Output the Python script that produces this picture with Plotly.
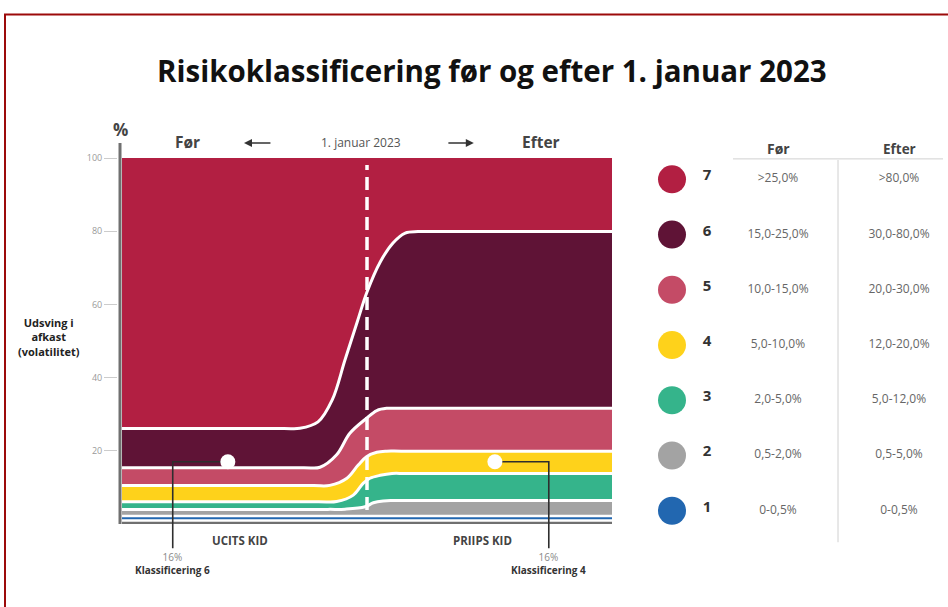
import plotly.graph_objects as go

# ---------------- data ----------------
CLASSES = [1, 2, 3, 4, 5, 6, 7]
BEFORE_RANGES = ["0-0,5%", "0,5-2,0%", "2,0-5,0%", "5,0-10,0%", "10,0-15,0%", "15,0-25,0%", ">25,0%"]
AFTER_RANGES = ["0-0,5%", "0,5-5,0%", "5,0-12,0%", "12,0-20,0%", "20,0-30,0%", "30,0-80,0%", ">80,0%"]
Y_TICKS = [20, 40, 60, 80, 100]

# band boundaries (volatility %) along the time axis (0..100, switch at 50)
B0_X = [0, 100]
B0_Y = [0, 0]
B1_X = [0, 100]
B1_Y = [0.96, 0.96]
B2_X = [0, 100]
B2_Y = [2.2, 2.2]
B3_X = [0, 42, 45.5, 49.6, 51.3, 53.3, 55.3, 58, 100]
B3_Y = [4.0, 4.0, 4.05, 4.7, 5.8, 6.3, 6.4, 6.4, 6.4]
B4_X = [0, 40, 43.8, 47.2, 49.2, 50.6, 52.7, 55.1, 58, 100]
B4_Y = [6.1, 6.1, 6.15, 7.9, 11.1, 12.5, 13.3, 13.8, 13.8, 13.8]
B5_X = [0, 39, 42.4, 45.9, 48.2, 49.9, 52.0, 54.0, 57, 100]
B5_Y = [10.5, 10.5, 10.55, 12.5, 16.1, 18.4, 19.6, 19.9, 19.9, 19.9]
B6_X = [0, 37, 40.4, 43.8, 46.5, 49.9, 52.0, 54.0, 57, 100]
B6_Y = [15.4, 15.4, 15.5, 18.9, 24.8, 28.9, 31.0, 31.6, 31.6, 31.6]
B7_X = [0, 33, 36.3, 40.0, 42.9, 45.5, 48.0, 50.0, 52.7, 55.3, 57.8, 60.4, 64, 100]
B7_Y = [26.1, 26.1, 26.15, 27.9, 33.9, 44.8, 55.2, 63.4, 71.6, 76.8, 79.5, 79.9, 79.9, 79.9]
B8_X = [0, 100]
B8_Y = [100, 100]

SWITCH_X = 50
DASH_Y = [3.8, 98.1]

EXAMPLE_X = [21.6, 76.1]          # fund examples before / after
EXAMPLE_Y = [17.0, 17.0]          # 16 % volatility
EXAMPLE_PCT = ["16%", "16%"]
EXAMPLE_LABEL = ["Klassificering 6", "Klassificering 4"]
EXAMPLE_KID = ["UCITS KID", "PRIIPS KID"]

# ---------------- styles ----------------
COL_AXIS = "#707070"
CLASS_COLORS = ["#2267b0", "#a3a3a3", "#35b48b", "#fed21b", "#c44b66", "#5f1336", "#b21f42"]
BAND_COLORS = [COL_AXIS] + CLASS_COLORS
FONT = "Open Sans"

W, H = 948, 607
def px_x(p):
    return p / W
def px_y(p):
    return 1 - p / H

fig = go.Figure()

bounds = [(B0_X, B0_Y), (B1_X, B1_Y), (B2_X, B2_Y), (B3_X, B3_Y), (B4_X, B4_Y),
          (B5_X, B5_Y), (B6_X, B6_Y), (B7_X, B7_Y), (B8_X, B8_Y)]

# stacked fills
for i, (bx, by) in enumerate(bounds):
    fig.add_trace(go.Scatter(
        x=bx, y=by, mode="lines",
        line=dict(width=0, shape="spline", smoothing=1),
        fill=None if i == 0 else "tonexty",
        fillcolor=None if i == 0 else BAND_COLORS[i - 1],
        hoverinfo="skip", showlegend=False))

# white separators
for i, (bx, by) in enumerate(bounds[1:8], start=1):
    fig.add_trace(go.Scatter(
        x=bx, y=by, mode="lines",
        line=dict(width=2.6 if i <= 2 else 3, color="white", shape="spline", smoothing=1),
        hoverinfo="skip", showlegend=False))

# left axis line
fig.add_trace(go.Scatter(x=[-0.41, -0.41], y=[0, 104.1], mode="lines",
                         line=dict(width=3, color=COL_AXIS), hoverinfo="skip", showlegend=False))

# dashed switch line
fig.add_trace(go.Scatter(x=[SWITCH_X, SWITCH_X], y=DASH_Y, mode="lines",
                         line=dict(width=3.5, color="white", dash="13px,7px"),
                         hoverinfo="skip", showlegend=False))

# connectors for examples
CONN_X = [10.35, 87.1]
CONN_BOTTOM = -6.6
for ex, ey, cx in zip(EXAMPLE_X, EXAMPLE_Y, CONN_X):
    fig.add_trace(go.Scatter(x=[ex, cx, cx], y=[ey, ey, CONN_BOTTOM], mode="lines",
                             line=dict(width=1.6, color="#2e2e2e"),
                             hoverinfo="skip", showlegend=False))

fig.add_trace(go.Scatter(x=EXAMPLE_X, y=EXAMPLE_Y, mode="markers",
                         marker=dict(size=15, color="white", line=dict(width=0)),
                         hoverinfo="skip", showlegend=False))

# ---------------- right table ----------------
COL_CIRCLE, COL_NUM, COL_BEFORE, COL_AFTER = 52, 87, 158, 279
fig.add_trace(go.Scatter(x=[COL_CIRCLE] * 7, y=CLASSES, mode="markers",
                         marker=dict(size=28, color=CLASS_COLORS, line=dict(width=0)),
                         xaxis="x2", yaxis="y2", hoverinfo="skip", showlegend=False))
fig.add_trace(go.Scatter(x=[COL_NUM] * 7, y=[c + 0.05 for c in CLASSES], mode="text",
                         text=[str(c) for c in CLASSES],
                         textfont=dict(family=FONT, size=15, color="#333333", weight="bold"),
                         xaxis="x2", yaxis="y2", hoverinfo="skip", showlegend=False))
fig.add_trace(go.Scatter(x=[COL_BEFORE] * 7, y=CLASSES, mode="text", text=BEFORE_RANGES,
                         textfont=dict(family=FONT, size=12, color="#666666"),
                         xaxis="x2", yaxis="y2", hoverinfo="skip", showlegend=False))
fig.add_trace(go.Scatter(x=[COL_AFTER] * 7, y=CLASSES, mode="text", text=AFTER_RANGES,
                         textfont=dict(family=FONT, size=12, color="#666666"),
                         xaxis="x2", yaxis="y2", hoverinfo="skip", showlegend=False))

annotations = []
shapes = []

annotations += [
    dict(xref="x2", yref="y2", x=COL_BEFORE, y=7.55, text="<b>Før</b>", showarrow=False,
         font=dict(family=FONT, size=14, color="#444444")),
    dict(xref="x2", yref="y2", x=COL_AFTER, y=7.55, text="<b>Efter</b>", showarrow=False,
         font=dict(family=FONT, size=13.5, color="#444444")),
]
shapes += [
    dict(type="line", xref="x2", yref="y2", x0=113, x1=323, y0=7.37, y1=7.37,
         line=dict(color="#d0d0d0", width=1)),
    dict(type="line", xref="x2", yref="y2", x0=218, x1=218, y0=7.35, y1=0.43,
         line=dict(color="#d0d0d0", width=1)),
]

# ---------------- chart annotations ----------------
annotations += [
    dict(x=-0.41, y=107.7, text="<b>%</b>", showarrow=False,
         font=dict(family=FONT, size=17, color="#444444")),
    dict(x=13.3, y=104.4, text="<b>Før</b>", showarrow=False,
         font=dict(family=FONT, size=15.5, color="#444444")),
    dict(x=48.8, y=104.2, text="1. januar 2023", showarrow=False,
         font=dict(family=FONT, size=12, color="#555555")),
    dict(x=85.5, y=104.4, text="<b>Efter</b>", showarrow=False,
         font=dict(family=FONT, size=15.5, color="#444444")),
    dict(x=24.9, y=104.1, ax=30.6, ay=104.1, axref="x", ayref="y", text="", showarrow=True,
         arrowhead=2, arrowsize=1, arrowwidth=1.6, arrowcolor="#333333"),
    dict(x=71.8, y=104.1, ax=66.3, ay=104.1, axref="x", ayref="y", text="", showarrow=True,
         arrowhead=2, arrowsize=1, arrowwidth=1.6, arrowcolor="#333333"),
]
KID_X = [24.1, 73.5]
for kx, kid in zip(KID_X, EXAMPLE_KID):
    annotations.append(dict(x=kx, y=-4.6, text="<b>" + kid + "</b>", showarrow=False,
                            font=dict(family=FONT, size=11.5, color="#444444")))
for cx, pct, lab in zip(CONN_X, EXAMPLE_PCT, EXAMPLE_LABEL):
    annotations.append(dict(
        x=cx, y=-10.8, yanchor="middle", align="center", showarrow=False,
        text="<span style='color:#8a8a8a'>" + pct + "</span><br><b>" + lab + "</b>",
        font=dict(family=FONT, size=10, color="#333333")))

annotations += [
    dict(xref="paper", yref="paper", x=px_x(49), y=px_y(337), xanchor="center", yanchor="middle",
         text="<b>Udsving i<br>afkast<br>(volatilitet)</b>", showarrow=False,
         font=dict(family=FONT, size=11, color="#222222"), align="center"),
    dict(xref="paper", yref="paper", x=px_x(492), y=px_y(70), xanchor="center", yanchor="middle",
         text="<b>Risikoklassificering før og efter 1. januar 2023</b>", showarrow=False,
         font=dict(family=FONT, size=29.5, color="#111111")),
]

shapes.append(dict(type="rect", xref="paper", yref="paper", x0=px_x(5), x1=1.05,
                   y0=-0.05, y1=px_y(14.5), line=dict(color="#9c0a0a", width=2)))

fig.update_layout(
    width=W, height=H,
    margin=dict(l=0, r=0, t=0, b=0),
    paper_bgcolor="white", plot_bgcolor="white",
    font=dict(family=FONT),
    xaxis=dict(domain=[px_x(118), px_x(612)], range=[-0.82, 100], visible=False, fixedrange=True),
    yaxis=dict(domain=[px_y(575), px_y(128)], range=[-13.93, 108.2],
               tickvals=Y_TICKS, ticks="outside", ticklen=13, tickwidth=1, tickcolor="#cccccc",
               tickfont=dict(family=FONT, size=9, color="#9a9a9a"),
               showgrid=False, zeroline=False, showline=False, fixedrange=True),
    xaxis2=dict(domain=[px_x(620), 1], range=[0, 328], visible=False, anchor="y2", fixedrange=True),
    yaxis2=dict(domain=[px_y(549.4), px_y(124.1)], range=[0.3, 8.0], visible=False, anchor="x2",
                fixedrange=True),
    annotations=annotations,
    shapes=shapes,
    showlegend=False,
)

fig.write_html("out.html", config={"displayModeBar": False},
               post_script="document.body.style.margin='0px';")
